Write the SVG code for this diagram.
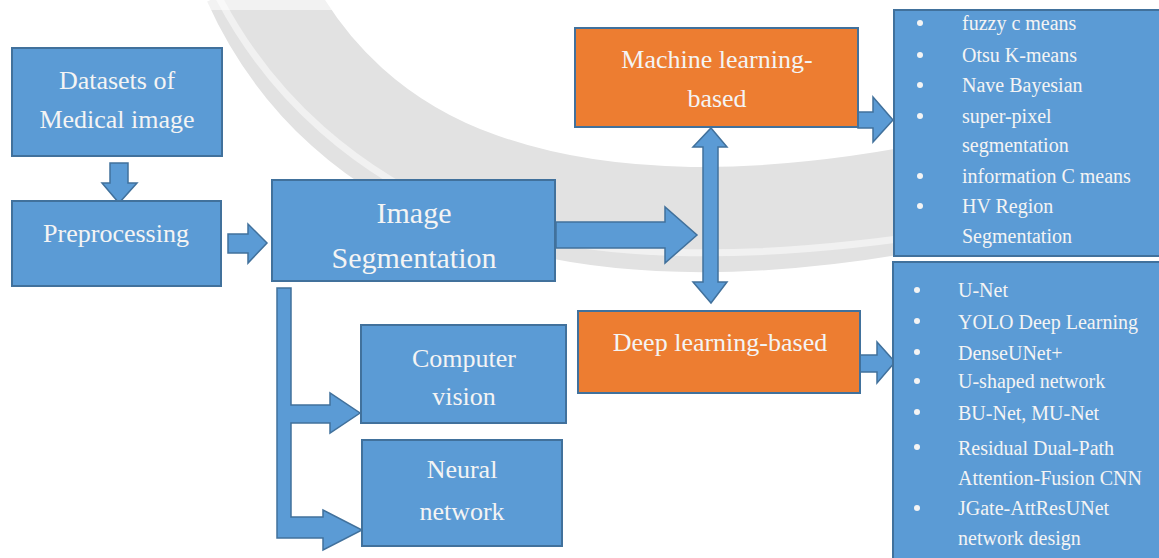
<svg xmlns="http://www.w3.org/2000/svg" width="1159" height="558" viewBox="0 0 1159 558">
<style>
.box{fill:#5B9BD5;stroke:#41719C;stroke-width:2}
.obox{fill:#ED7D31;stroke:#41719C;stroke-width:2}
.arr{fill:#5B9BD5;stroke:#41719C;stroke-width:1.5;stroke-linejoin:miter}
.lbl{font-family:"Liberation Serif","Times New Roman",serif;font-size:26px;fill:#f4f4f4;text-anchor:middle}
.big{font-size:30px}
.li{font-family:"Liberation Serif","Times New Roman",serif;font-size:20px;fill:#f4f4f4}
.bul{fill:#f4f4f4}
</style>
<rect width="1159" height="558" fill="#ffffff"/>
<!-- watermark arc -->
<g id="watermark" fill="none">
<path d="M255,-20 C300,80 380,150 480,185 C600,228 760,232 960,190" stroke="#e2e2e2" stroke-width="105"/>
<path d="M215,-10 C270,100 360,175 470,220 C600,262 760,262 960,230" stroke="#f1f1f1" stroke-width="7"/>
<rect x="0" y="0" width="1159" height="10" fill="#ffffff" opacity="0.55"/>
</g>
<g id="connectors">
<polygon class="arr" points="110,163 128,163 128,183 137,183 119,203 102,183 110,183"/>
<polygon class="arr" points="228,234 248,234 248,224 267,243 248,263 248,253 228,253"/>
<polygon class="arr" points="556,222 665,222 665,207 697,235 665,263 665,248 556,248"/>
<polygon class="arr" points="711,128 727,147 718,147 718,282 727,282 711,303 693,282 703,282 703,147 693,147"/>
<polygon class="arr" points="858,112 873,112 873,97 893,120 873,142 873,128 858,128"/>
<polygon class="arr" points="860,355 877,355 877,342 895,362 877,383 877,372 860,372"/>
<polygon class="arr" points="277,288 291,288 291,405 330,405 330,393 360,413 330,433 330,423 291,423 291,517 323,517 323,510 362,530 323,550 323,538 277,538"/>
</g>
<g id="datasets">
<rect class="box" x="12" y="48" width="210" height="108"/>
<text class="lbl" x="117" y="89">Datasets of</text>
<text class="lbl" x="117" y="128">Medical image</text>
</g>
<g id="preprocessing">
<rect class="box" x="12" y="201" width="209" height="85"/>
<text class="lbl" x="116" y="242">Preprocessing</text>
</g>
<g id="image-segmentation">
<rect class="box" x="272" y="180" width="283" height="101"/>
<text class="lbl big" x="414" y="223">Image</text>
<text class="lbl big" x="414" y="268">Segmentation</text>
</g>
<g id="machine-learning">
<rect class="obox" x="575" y="28" width="283" height="99"/>
<text class="lbl" x="717" y="68">Machine learning-</text>
<text class="lbl" x="717" y="107">based</text>
</g>
<g id="deep-learning">
<rect class="obox" x="578" y="311" width="282" height="82"/>
<text class="lbl" x="720" y="351">Deep learning-based</text>
</g>
<g id="computer-vision">
<rect class="box" x="361" y="325" width="205" height="98"/>
<text class="lbl" x="464" y="367">Computer</text>
<text class="lbl" x="464" y="405">vision</text>
</g>
<g id="neural-network">
<rect class="box" x="362" y="440" width="200" height="106"/>
<text class="lbl" x="462" y="478">Neural</text>
<text class="lbl" x="462" y="520">network</text>
</g>
<g id="ml-methods">
<rect class="box" x="894" y="10" width="275" height="246"/>
<circle class="bul" cx="920" cy="23" r="3"/>
<circle class="bul" cx="920" cy="55" r="3"/>
<circle class="bul" cx="920" cy="85" r="3"/>
<circle class="bul" cx="920" cy="116" r="3"/>
<circle class="bul" cx="920" cy="176" r="3"/>
<circle class="bul" cx="920" cy="206" r="3"/>
<text class="li" x="962" y="30">fuzzy c means</text>
<text class="li" x="962" y="62">Otsu K-means</text>
<text class="li" x="962" y="92">Nave Bayesian</text>
<text class="li" x="962" y="123">super-pixel</text>
<text class="li" x="962" y="152">segmentation</text>
<text class="li" x="962" y="183">information C means</text>
<text class="li" x="962" y="213">HV Region</text>
<text class="li" x="962" y="243">Segmentation</text>
</g>
<g id="dl-methods">
<rect class="box" x="893" y="262" width="275" height="305"/>
<circle class="bul" cx="917" cy="290" r="3"/>
<circle class="bul" cx="917" cy="321" r="3"/>
<circle class="bul" cx="917" cy="352" r="3"/>
<circle class="bul" cx="917" cy="381" r="3"/>
<circle class="bul" cx="917" cy="412" r="3"/>
<circle class="bul" cx="917" cy="447" r="3"/>
<circle class="bul" cx="917" cy="508" r="3"/>
<text class="li" x="958" y="297">U-Net</text>
<text class="li" x="958" y="329">YOLO Deep Learning</text>
<text class="li" x="958" y="360">DenseUNet+</text>
<text class="li" x="958" y="388">U-shaped network</text>
<text class="li" x="958" y="420">BU-Net, MU-Net</text>
<text class="li" x="958" y="455">Residual Dual-Path</text>
<text class="li" x="958" y="485">Attention-Fusion CNN</text>
<text class="li" x="958" y="515">JGate-AttResUNet</text>
<text class="li" x="958" y="545">network design</text>
</g>
</svg>
